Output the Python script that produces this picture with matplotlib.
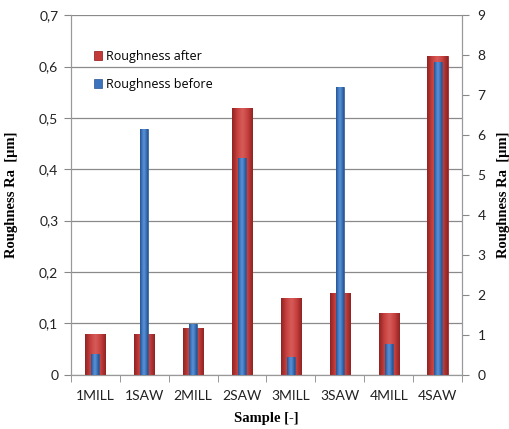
import matplotlib
matplotlib.use("Agg")
import matplotlib.pyplot as plt
import numpy as np
from matplotlib.ticker import FuncFormatter, FixedLocator
from matplotlib.colors import LinearSegmentedColormap

samples = ["1MILL", "1SAW", "2MILL", "2SAW", "3MILL", "3SAW", "4MILL", "4SAW"]
after = [0.08, 0.08, 0.09, 0.52, 0.15, 0.16, 0.12, 0.62]
before = [0.51, 6.15, 1.28, 5.42, 0.44, 7.2, 0.77, 7.83]

fig = plt.figure(figsize=(5.09, 4.29), dpi=100)
ax = fig.add_axes([0.139, 0.1266, 0.769, 0.838])
ax2 = ax.twinx()

x = np.arange(len(samples))
red = "#C23B3A"
blue = "#3C73BC"

bars_r = ax.bar(x, after, width=0.42, color=red, edgecolor="#9E2A2A", linewidth=0.6,
                label="Roughness after", zorder=3)
bars_b = ax2.bar(x, before, width=0.16, color=blue, edgecolor="#2A5590", linewidth=0.5,
                 label="Roughness before", zorder=3)

cm_r = LinearSegmentedColormap.from_list("r", ["#8E2423", "#C7403E", "#D65C5A", "#C7403E", "#8E2423"])
cm_b = LinearSegmentedColormap.from_list("b", ["#24508A", "#3F78C2", "#5C92D6", "#3F78C2", "#24508A"])
grad = np.linspace(0, 1, 64).reshape(1, -1)
for a, bars, cm in ((ax, bars_r, cm_r), (ax2, bars_b, cm_b)):
    for b in bars:
        x0, w, h = b.get_x(), b.get_width(), b.get_height()
        im = a.imshow(grad, cmap=cm, aspect="auto", extent=(x0, x0 + w, 0, h),
                      zorder=3.1, interpolation="bicubic")
        im.set_clip_path(b)

ax.set_xlim(-0.5, len(samples) - 0.5)
ax.set_ylim(0, 0.7)
ax2.set_ylim(0, 9)
ax.set_yticks(np.arange(0, 0.71, 0.1))
ax2.set_yticks(np.arange(0, 10, 1))
ax.yaxis.set_major_formatter(FuncFormatter(lambda v, p: "0" if abs(v) < 1e-9 else f"{v:.1f}".replace(".", ",")))

ax.set_xticks(x)
ax.set_xticklabels(samples)
ax.xaxis.set_minor_locator(FixedLocator(np.arange(-0.5, len(samples), 1.0)))
ax.tick_params(axis="x", which="major", length=0, pad=11)
ax.tick_params(axis="x", which="minor", length=5, color="#888888", direction="out")
ax.tick_params(axis="y", length=5, color="#888888", pad=4)
ax2.tick_params(axis="y", length=5, color="#888888", pad=6)
for a in (ax, ax2):
    for lab in a.get_yticklabels() + a.get_xticklabels():
        lab.set_family("Lato")
        lab.set_fontsize(10)
        lab.set_color("#222222")

ax.grid(axis="y", color="#8a8a8a", linewidth=0.9, zorder=0)
ax.set_axisbelow(True)
for a in (ax, ax2):
    a.spines["top"].set_visible(False)
    a.spines["left"].set_color("#999999")
    a.spines["right"].set_color("#999999")
    a.spines["bottom"].set_color("#999999")

lab_font = dict(family="Liberation Serif", weight="bold", size=10.5)
ax.set_ylabel("Roughness Ra  [µm]", **lab_font)
ax2.set_ylabel("Roughness Ra  [µm]", **lab_font)
ax.set_xlabel("Sample [-]", **lab_font)
ax.yaxis.set_label_coords(-0.135, 0.5)
ax2.yaxis.set_label_coords(1.09, 0.5)
ax.xaxis.set_label_coords(0.5, -0.105)

h1, l1 = ax.get_legend_handles_labels()
h2, l2 = ax2.get_legend_handles_labels()
leg = ax.legend(h1 + h2, l1 + l2, loc="upper left", bbox_to_anchor=(0.03, 0.935),
                frameon=False, prop={"family": "Open Sans", "size": 9},
                handlelength=0.7, handleheight=0.7, handletextpad=0.3, labelspacing=1.2)
leg.set_zorder(5)

fig.savefig("out.png", dpi=100)
